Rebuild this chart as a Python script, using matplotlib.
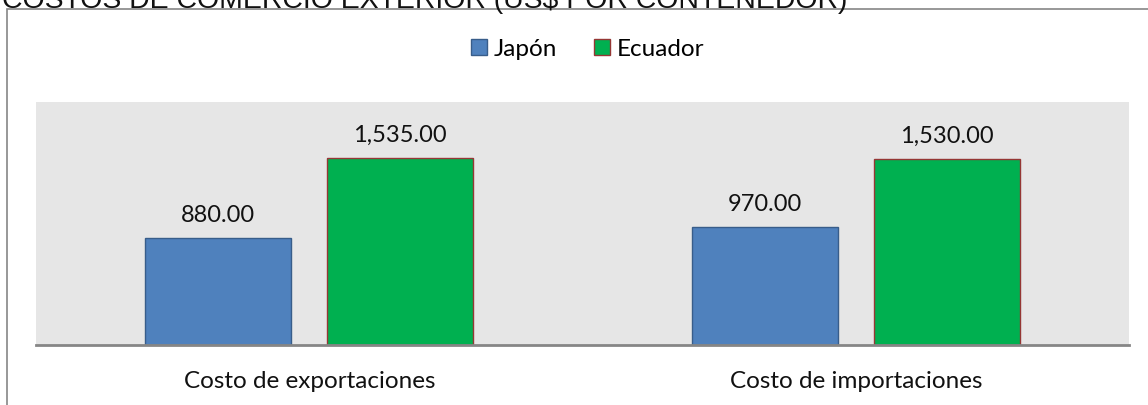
import matplotlib
matplotlib.use('Agg')
import matplotlib.pyplot as plt
from matplotlib.patches import Rectangle
import numpy as np

categories = ['Costo de exportaciones', 'Costo de importaciones']
series_names = ['Japón', 'Ecuador']
japon = [880.00, 970.00]
ecuador = [1535.00, 1530.00]
title = 'COSTOS DE COMERCIO EXTERIOR (US$ POR CONTENEDOR)'

fills = ['#4f81bd', '#00b050']
edges = ['#385d8a', '#953735']


def fmt(v):
    return f'{v:,.2f}'


def main():
    plt.rcParams['font.family'] = ['Lato', 'DejaVu Sans']
    fig = plt.figure(figsize=(11.48, 4.06), dpi=100)

    # outer chart border, cut off at right and bottom
    fig.patches.append(Rectangle((7 / 1148, -0.05), 1.2, 1 - 10 / 406 + 0.05,
                                 transform=fig.transFigure, fill=False,
                                 edgecolor='#868686', linewidth=1.2))
    fig.text(2 / 1148, 1 - 8 / 406, title, family='Liberation Sans',
             fontsize=20.4, va='baseline', ha='left', color='#111111')

    ax = fig.add_axes([36 / 1148, 1 - 345.7 / 406,
                       (1129 - 36) / 1148, (345.7 - 103) / 406])
    ax.set_facecolor('#e6e6e6')
    x = np.arange(len(categories))
    w = 0.267
    off = 0.1665
    for vals, sign, name, fc, ec in zip([japon, ecuador], [-1, 1],
                                        series_names, fills, edges):
        bars = ax.bar(x + sign * off, vals, w, color=fc, edgecolor=ec,
                      linewidth=1.0, label=name, zorder=2)
        for b, v in zip(bars, vals):
            ax.annotate(fmt(v), (b.get_x() + b.get_width() / 2, v),
                        xytext=(0, 12.5), textcoords='offset points',
                        ha='center', va='baseline', fontsize=17,
                        color='#111111')
    ax.set_xlim(-0.5, 1.5)
    ax.set_ylim(0, 2000)
    ax.set_yticks([])
    ax.set_xticks(x)
    ax.set_xticklabels(categories, fontsize=17.5, color='#111111')
    ax.tick_params(axis='x', length=0, pad=18)
    for s in ['left', 'right', 'top']:
        ax.spines[s].set_visible(False)
    ax.spines['bottom'].set_color('#868686')
    ax.spines['bottom'].set_linewidth(2)
    ax.spines['bottom'].set_zorder(3)

    fig.legend(loc='center', bbox_to_anchor=(0.512, 1 - 50 / 406), ncol=2,
               frameon=False, fontsize=17.5, handlelength=0.65,
               handleheight=0.65, handletextpad=0.3, columnspacing=1.5)

    fig.savefig('out.png', dpi=100)


if __name__ == "__main__":
    main()
